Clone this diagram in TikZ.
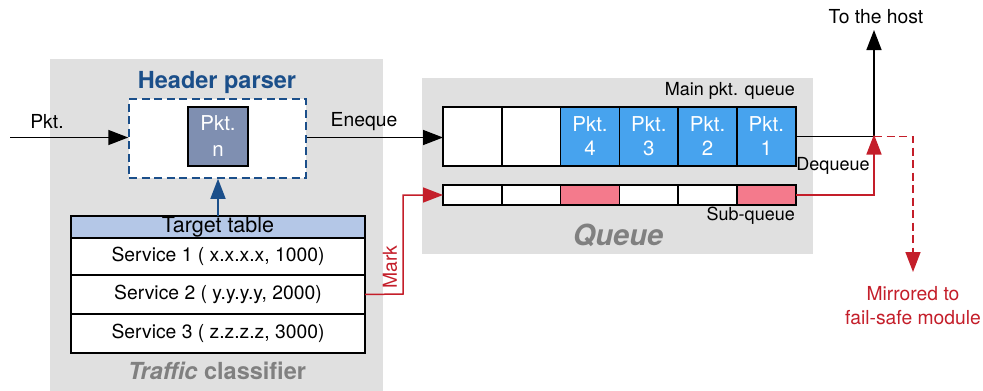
\documentclass[tikz,border=0pt]{standalone}
\usepackage{fontspec}
\setmainfont{TeX Gyre Heros}
\usetikzlibrary{arrows.meta}
\definecolor{panelgrey}{HTML}{E0E0E0}
\definecolor{parserblue}{HTML}{1B4F8A}
\definecolor{pktslate}{HTML}{7F8FB1}
\definecolor{tablehead}{HTML}{B4C7E7}
\definecolor{queueblue}{HTML}{47A3EE}
\definecolor{markpink}{HTML}{F47A8C}
\definecolor{markred}{HTML}{C41E2A}
\definecolor{labelgrey}{HTML}{808080}
\tikzset{
  cell/.style={draw=black, line width=1.5pt, minimum width=58.8pt, inner sep=0pt, outer sep=0pt, align=center, font=\fontsize{20.5}{24}\selectfont},
  maincell/.style={cell, minimum height=59pt},
  subcell/.style={cell, minimum height=20pt},
  row/.style={draw=black, line width=1.5pt, minimum width=294pt, inner sep=0pt, outer sep=0pt, fill=white, font=\fontsize{19.3}{22}\selectfont},
  flow/.style={line width=1.5pt, -{Triangle[length=20pt,width=15pt]}},
  lbl/.style={font=\fontsize{19.3}{22}\selectfont, inner sep=0pt},
  dashline/.style={dash pattern=on 8pt off 4.5pt},
}
\begin{document}
\begin{tikzpicture}[x=1pt, y=-1pt]
\useasboundingbox (0,0) rectangle (983,391);

% grey panels
\fill[panelgrey] (50,59) rectangle (383,391);
\fill[panelgrey] (422,78) rectangle (813,254);

% header parser
\node[draw=parserblue, dashline, line width=1.5pt, fill=white,
      minimum width=177pt, minimum height=79pt, inner sep=0pt] (parser) at (217.5,138.5) {};
\node[font=\bfseries\fontsize{23.5}{26}\selectfont, text=parserblue] (parsertitle) at (217,82) {Header parser};
\node[draw=black, line width=1.5pt, fill=pktslate, minimum width=60pt, minimum height=59pt,
      inner sep=0pt, align=center, text=white, font=\fontsize{20.5}{26}\selectfont] (pktn) at (218,136.5) {Pkt.\\n};

% target table
\node[row, fill=tablehead, minimum height=22pt, font=\fontsize{21.5}{22}\selectfont] (thead) at (218,227) {Target table};
\node[row, minimum height=37pt] (svc1) at (218,256.5) {Service 1 ( x.x.x.x, 1000)};
\node[row, minimum height=39pt] (svc2) at (218,294.5) {Service 2 ( y.y.y.y, 2000)};
\node[row, minimum height=39pt] (svc3) at (218,333.5) {Service 3 ( z.z.z.z, 3000)};
\node[font=\bfseries\fontsize{23.5}{26}\selectfont, text=labelgrey] (classifier) at (217,371) {\textit{Traffic} classifier};

% main packet queue
\node[maincell, fill=white] (m1) at (472.4,136.5) {};
\node[maincell, fill=white, anchor=west] (m2) at (m1.east) {};
\node[maincell, fill=queueblue, text=white, anchor=west] (m3) at (m2.east) {Pkt.\\4};
\node[maincell, fill=queueblue, text=white, anchor=west] (m4) at (m3.east) {Pkt.\\3};
\node[maincell, fill=queueblue, text=white, anchor=west] (m5) at (m4.east) {Pkt.\\2};
\node[maincell, fill=queueblue, text=white, anchor=west] (m6) at (m5.east) {Pkt.\\1};
\node[lbl, anchor=east, font=\fontsize{18}{20}\selectfont] (mainlbl) at (795,91) {Main pkt. queue};

% sub-queue
\node[subcell, fill=white] (s1) at (472.4,195) {};
\node[subcell, fill=white, anchor=west] (s2) at (s1.east) {};
\node[subcell, fill=markpink, anchor=west] (s3) at (s2.east) {};
\node[subcell, fill=white, anchor=west] (s4) at (s3.east) {};
\node[subcell, fill=white, anchor=west] (s5) at (s4.east) {};
\node[subcell, fill=markpink, anchor=west] (s6) at (s5.east) {};
\node[lbl, anchor=east, font=\fontsize{18}{20}\selectfont] (sublbl) at (795,216) {Sub-queue};
\node[font=\bfseries\itshape\fontsize{29}{31}\selectfont, text=labelgrey] (queuelbl) at (618,235) {Queue};

% connectors
\coordinate (src) at (10,137.5);
\coordinate (join) at (874,136.5);
\coordinate (host) at (874,30);
\coordinate (mirror) at (913,272);
\coordinate (markbend) at (403,294);

\draw[flow] (src) -- (parser.west |- src);
\node[lbl] (pktlbl) at (47,122) {Pkt.};
\draw[flow] (parser.east |- 0,137.5) -- (m1.west |- 0,137.5);
\node[lbl] (enqlbl) at (364,122) {Eneque};
\draw[flow, draw=parserblue] (thead.north) -- (parser.south -| thead.north);

\draw[line width=1.5pt] (m6.east) -- (join);
\draw[flow] (join) -- (host);
\node[lbl] (hostlbl) at (876,17) {To the host};
\node[lbl, font=\fontsize{18}{20}\selectfont] (deqlbl) at (833,166) {Dequeue};

\draw[flow, draw=markred] (s6.east) -| ([yshift=2pt]join);
\draw[flow, draw=markred, dashline] (join) -| (mirror);
\node[lbl, text=markred, align=center, font=\fontsize{19.3}{24}\selectfont] (mirrorlbl) at (913,306) {Mirrored to\\fail-safe module};

\draw[flow, draw=markred] (svc2.east) -- (markbend) |- (s1.west);
\node[lbl, text=markred, rotate=90] (marklbl) at (390,267) {Mark};
\end{tikzpicture}
\end{document}
